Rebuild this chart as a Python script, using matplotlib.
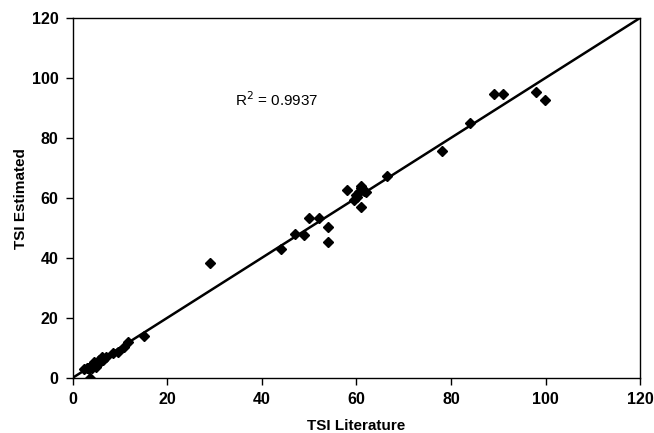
import numpy as np
import matplotlib
matplotlib.use('Agg')
import matplotlib.pyplot as plt

plt.rcParams['font.family'] = ['Liberation Sans', 'DejaVu Sans']

# TSI literature vs estimated values
tsi_lit = [2.5, 3.0, 3.5, 3.8, 4.0, 4.2, 4.5, 4.8, 5.0, 5.3, 5.5, 6.0, 6.3, 6.5,
           3.2, 4.5, 5.0, 3.6, 7.0, 5.8, 3.7,
           8.6, 9.7, 10.9, 11.8, 15.0, 29.1, 44.0, 47.0, 48.9, 50.0, 52.0, 54.0, 54.0,
           58.0, 59.5, 60.0, 60.5, 61.0, 61.5, 62.0, 60.2, 60.9, 60.9, 66.5,
           78.1, 84.0, 89.1, 91.0, 98.0, 99.9]
tsi_est = [3.0, 3.5, 3.0, 4.0, 3.5, 4.5, 4.0, 5.0, 4.5, 5.5, 6.0, 6.5, 7.0, 6.0,
           3.2, 5.2, 3.8, 3.6, 7.0, 5.5, 0.0,
           8.2, 8.8, 10.4, 12.1, 14.0, 38.4, 42.9, 48.0, 47.8, 53.2, 53.2, 50.4, 45.4,
           62.7, 59.5, 61.0, 62.0, 63.5, 62.5, 62.0, 60.2, 64.0, 57.1, 67.3,
           75.7, 85.1, 94.7, 94.7, 95.4, 92.7]

x = np.array(tsi_lit)
y = np.array(tsi_est)

fig = plt.figure(figsize=(6.54, 4.33), dpi=100)
ax = fig.add_axes([0.111, 0.127, 0.868, 0.831])

ax.plot(x, y, linestyle='none', marker='D', color='black', markersize=5.5)

slope, icpt = np.polyfit(x, y, 1)
xl = np.array([0, 120])
ax.plot(xl, slope * xl + icpt, color='black', linewidth=1.8)

ax.text(34.4, 92.7, 'R$^2$ = 0.9937', fontsize=11, va='center')

ax.set_xlim(0, 120)
ax.set_ylim(0, 120)
ax.set_xticks(range(0, 121, 20))
ax.set_yticks(range(0, 121, 20))
ax.tick_params(direction='out', length=5, width=1, labelsize=11.5, pad=5)
for lbl in ax.get_xticklabels() + ax.get_yticklabels():
    lbl.set_fontweight('bold')
for sp in ax.spines.values():
    sp.set_linewidth(1)

ax.set_xlabel('TSI Literature', fontsize=11, fontweight='bold', labelpad=9)
ax.set_ylabel('TSI Estimated', fontsize=11, fontweight='bold', labelpad=3)

fig.savefig('out.png', dpi=100)
